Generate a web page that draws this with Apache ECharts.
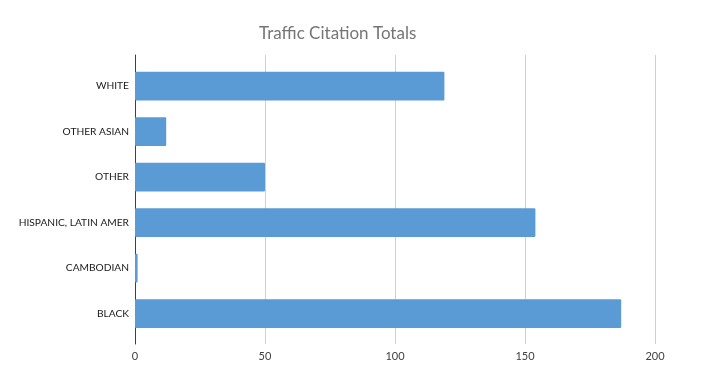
<!DOCTYPE html>
<html><head><meta charset="utf-8">
<script src="https://cdn.jsdelivr.net/npm/echarts@6/dist/echarts.min.js"></script>
<style>html,body{margin:0;padding:0;background:#fff}#c{width:701px;height:380px}</style>
</head><body><div id="c"></div>
<script>
const categories = ["BLACK", "CAMBODIAN", "HISPANIC, LATIN AMER", "OTHER", "OTHER ASIAN", "WHITE"];
const values = [187, 1, 154, 50, 12, 119];
const xTicks = [0, 50, 100, 150, 200];

const xMin = xTicks[0], xMax = xTicks[xTicks.length - 1];
const chart = echarts.init(document.getElementById('c'));
chart.setOption({
  animation: false,
  title: {
    text: 'Traffic Citation Totals',
    left: 254, top: 20,
    textStyle: { fontFamily: 'Lato', fontWeight: 'normal', fontSize: 17, color: '#757575' }
  },
  grid: [
    { left: 135, right: 46, top: 63.3, bottom: 43.7 },
    { left: 135, right: 46, top: 55, bottom: 36 }
  ],
  xAxis: [
    { type: 'value', gridIndex: 0, min: xMin, max: xMax, interval: 50, show: false },
    {
      type: 'value', gridIndex: 1, min: xMin, max: xMax, interval: 50,
      axisLine: { show: false }, axisTick: { show: false },
      splitLine: { lineStyle: { color: '#d0d0d0', width: 1 } },
      axisLabel: { color: '#404040', fontFamily: 'Lato', fontSize: 11, margin: 7 }
    }
  ],
  yAxis: [
    {
      type: 'category', gridIndex: 0, data: categories,
      axisLine: { show: false }, axisTick: { show: false },
      axisLabel: { color: '#1a1a1a', fontFamily: 'Lato', fontSize: 10.2, margin: 6 }
    },
    {
      type: 'value', gridIndex: 1, min: 0, max: 1,
      axisLine: { show: true, lineStyle: { color: '#404040', width: 1 } },
      axisTick: { show: false }, axisLabel: { show: false }, splitLine: { show: false }
    }
  ],
  series: [{
    type: 'bar', xAxisIndex: 0, yAxisIndex: 0, data: values, barCategoryGap: '37%', z: 3,
    itemStyle: { color: '#5b9bd5', borderRadius: 1 }
  }]
});
</script></body></html>
